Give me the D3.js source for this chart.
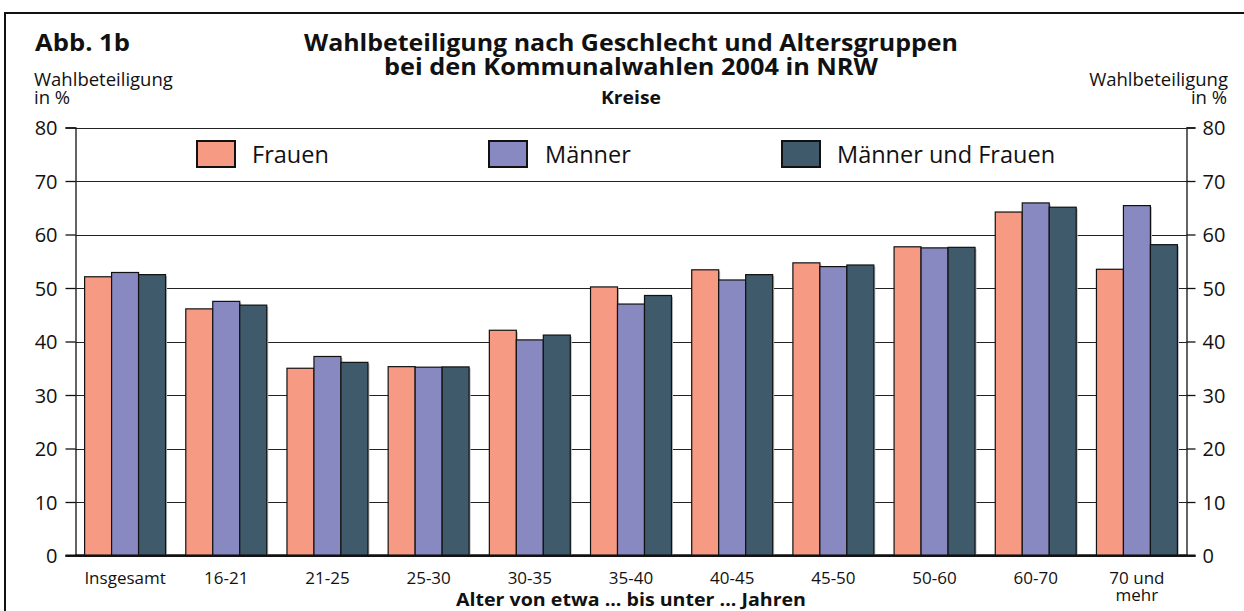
<!DOCTYPE html>
<html><head><meta charset="utf-8">
<script src="https://cdn.jsdelivr.net/npm/d3@7"></script>
<style>
html,body{margin:0;padding:0;background:#fff;}
svg{display:block;font-family:"Open Sans","Noto Sans",sans-serif;}
</style></head>
<body>
<svg id="chart" width="1244" height="611"></svg>
<script>
const categories = ["Insgesamt","16-21","21-25","25-30","30-35","35-40","40-45","45-50","50-60","60-70","70 und mehr"];
const seriesNames = ["Frauen","Männer","Männer und Frauen"];
const frauen = [52.1,46.1,35.0,35.3,42.1,50.2,53.4,54.7,57.7,64.2,53.5];
const maenner = [52.9,47.5,37.2,35.2,40.3,47.0,51.5,54.0,57.5,65.9,65.4];
const gesamt = [52.5,46.8,36.1,35.25,41.2,48.6,52.5,54.3,57.6,65.1,58.1];
const yTicks = [0,10,20,30,40,50,60,70,80];
const colors = ["#f79a83","#8989c2","#3e5a6b"];

const svg = d3.select("#chart");
const L = 75.5, R = 1186.5, T = 127.5, B = 555.5;

// frame
svg.append("path").attr("d","M5,611 V13 H1244").attr("fill","none").attr("stroke","#111").attr("stroke-width",2);

// squeeze text to a target width while keeping its font size
function squeeze(sel, w){
  sel.attr("textLength", w).attr("lengthAdjust","spacingAndGlyphs");
  return sel;
}

const x0 = d3.scaleBand().domain(categories).range([L,R]).paddingInner(0.2).paddingOuter(0.09);
const x1 = d3.scaleBand().domain(seriesNames).range([0,x0.bandwidth()]);
const y = d3.scaleLinear().domain([0,80]).range([B,T]);

// grid
svg.append("g").selectAll("line").data(yTicks).join("line")
  .attr("x1",L).attr("x2",R).attr("y1",d=>Math.round(y(d))+0.5).attr("y2",d=>Math.round(y(d))+0.5)
  .attr("stroke","#222").attr("stroke-width",1.1);

// axes
const axL = svg.append("g").attr("transform",`translate(${L},0)`)
  .call(d3.axisLeft(y).tickValues(yTicks).tickSize(10).tickPadding(8));
const axR = svg.append("g").attr("transform",`translate(${R},0)`)
  .call(d3.axisRight(y).tickValues(yTicks).tickSize(9).tickPadding(7));
[axL,axR].forEach(a=>{
  a.select(".domain").attr("stroke","#111").attr("stroke-width",1.3);
  a.selectAll(".tick line").attr("stroke","#111").attr("stroke-width",1.3);
  a.selectAll(".tick text").attr("font-size",20).attr("fill","#111").attr("font-family","'Open Sans',sans-serif").attr("dy","0.36em");
});
svg.append("line").attr("x1",L-10).attr("x2",R+9).attr("y1",y(0)).attr("y2",y(0)).attr("stroke","#111").attr("stroke-width",2);

// bars
const data = categories.map((c,i)=>({c, vals:[frauen[i],maenner[i],gesamt[i]]}));
const g = svg.append("g");
const groups = g.selectAll("g").data(data).join("g").attr("transform",d=>`translate(${x0(d.c)},0)`);
groups.selectAll("rect.sh").data(d=>d.vals.map((v,k)=>({v,k}))).join("rect").attr("class","sh")
  .attr("x",d=>x1(seriesNames[d.k])+1.5).attr("y",d=>y(d.v)+1.5)
  .attr("width",x1.bandwidth()).attr("height",d=>y(0)-y(d.v)-1.5).attr("fill","#bbb");
groups.selectAll("rect.b").data(d=>d.vals.map((v,k)=>({v,k}))).join("rect").attr("class","b")
  .attr("x",d=>x1(seriesNames[d.k])).attr("y",d=>y(d.v))
  .attr("width",x1.bandwidth()).attr("height",d=>y(0)-y(d.v))
  .attr("fill",d=>colors[d.k]).attr("stroke","#111").attr("stroke-width",1.2);
svg.append("line").attr("x1",L).attr("x2",R).attr("y1",y(0)).attr("y2",y(0)).attr("stroke","#111").attr("stroke-width",2);

// x labels
const xl = svg.append("g");
categories.forEach(c=>{
  const cx = x0(c)+x0.bandwidth()/2;
  if(c==="70 und mehr"){
    xl.append("text").attr("x",cx).attr("y",584).attr("text-anchor","middle").attr("font-size",17).attr("fill","#111").text("70 und");
    xl.append("text").attr("x",cx).attr("y",601).attr("text-anchor","middle").attr("font-size",17).attr("fill","#111").text("mehr");
  } else {
    xl.append("text").attr("x",cx).attr("y",584).attr("text-anchor","middle").attr("font-size",17).attr("fill","#111").text(c);
  }
});
squeeze(svg.append("text").attr("x",631).attr("y",606).attr("text-anchor","middle").attr("font-weight","bold").attr("font-size",17).attr("fill","#111").text("Alter von etwa ... bis unter ... Jahren"),350);

// legend
const legX = [197,489,782], legT = [252,545,837];
seriesNames.forEach((s,k)=>{
  svg.append("rect").attr("x",legX[k]).attr("y",141).attr("width",38).attr("height",26)
    .attr("fill",colors[k]).attr("stroke","#111").attr("stroke-width",2);
  svg.append("text").attr("x",legT[k]).attr("y",163).attr("font-size",23.5).attr("fill","#111").text(s);
});

// titles
squeeze(svg.append("text").attr("x",35).attr("y",51).attr("font-weight","bold").attr("font-size",24).attr("fill","#111").text("Abb. 1b"),95);
squeeze(svg.append("text").attr("x",631).attr("y",51).attr("text-anchor","middle").attr("font-weight","bold").attr("font-size",24).attr("fill","#111").text("Wahlbeteiligung nach Geschlecht und Altersgruppen"),654);
squeeze(svg.append("text").attr("x",631).attr("y",75).attr("text-anchor","middle").attr("font-weight","bold").attr("font-size",24).attr("fill","#111").text("bei den Kommunalwahlen 2004 in NRW"),494);
squeeze(svg.append("text").attr("x",631).attr("y",104).attr("text-anchor","middle").attr("font-weight","bold").attr("font-size",17).attr("fill","#111").text("Kreise"),60);

// y axis titles
svg.append("text").attr("x",34).attr("y",86).attr("font-size",18.5).attr("fill","#111").text("Wahlbeteiligung");
svg.append("text").attr("x",34).attr("y",104).attr("font-size",18.5).attr("fill","#111").text("in %");
svg.append("text").attr("x",1228).attr("y",86).attr("text-anchor","end").attr("font-size",18.5).attr("fill","#111").text("Wahlbeteiligung");
svg.append("text").attr("x",1227).attr("y",104).attr("text-anchor","end").attr("font-size",18.5).attr("fill","#111").text("in %");
</script>
</body></html>
